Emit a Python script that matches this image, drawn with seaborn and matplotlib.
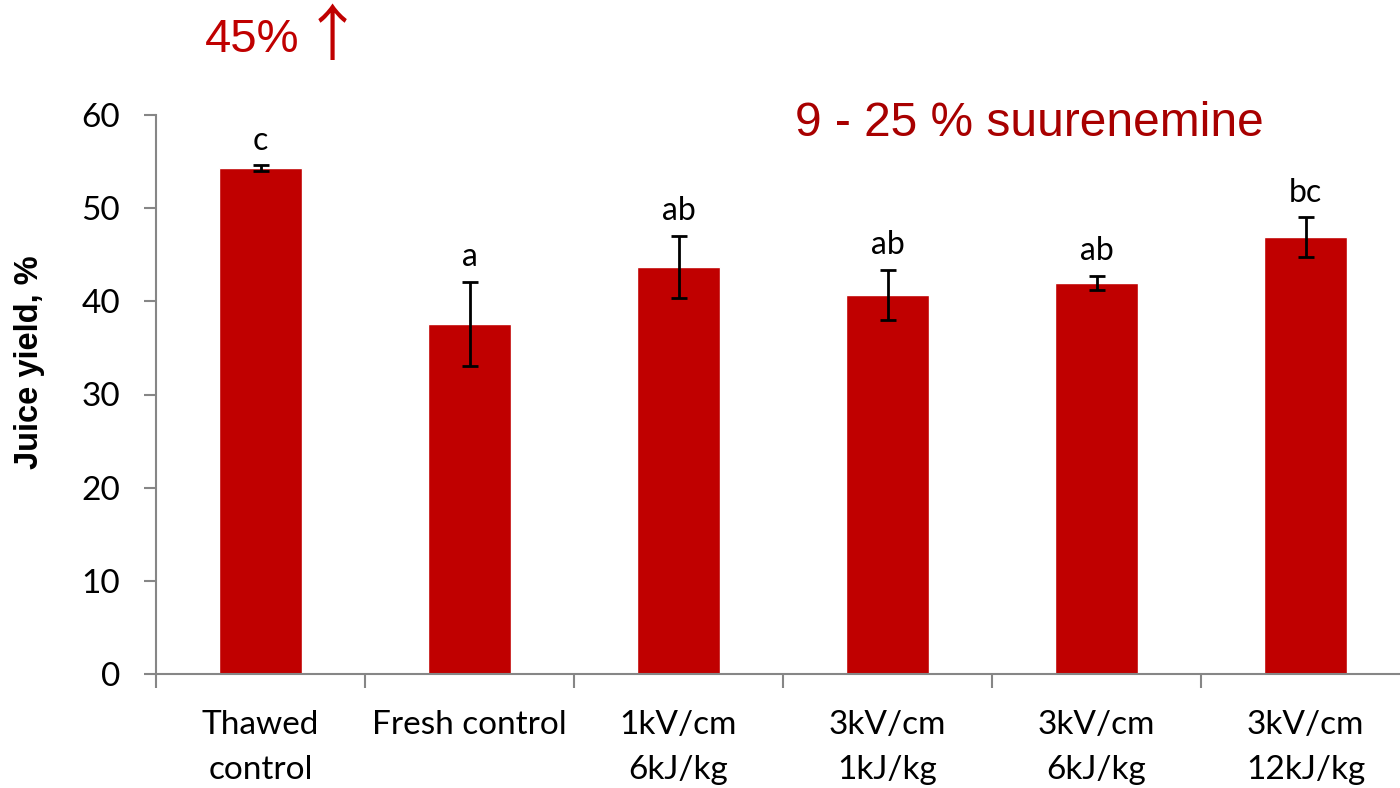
import matplotlib
matplotlib.use("Agg")
import matplotlib.pyplot as plt
import seaborn as sns
import pandas as pd

# Juice yield per treatment (mean ± error) with significance letters
categories = ["Thawed\ncontrol", "Fresh control", "1kV/cm\n6kJ/kg",
              "3kV/cm\n1kJ/kg", "3kV/cm\n6kJ/kg", "3kV/cm\n12kJ/kg"]
yield_mean = [54.3, 37.6, 43.7, 40.7, 42.0, 46.9]
yield_err = [0.3, 4.5, 3.3, 2.7, 0.75, 2.1]
letters = ["c", "a", "ab", "ab", "ab", "bc"]
y_ticks = [0, 10, 20, 30, 40, 50, 60]

df = pd.DataFrame({"treatment": categories, "yield": yield_mean})

sns.set_theme(style="white")
plt.rcParams["font.family"] = ["Lato", "DejaVu Sans"]
plt.rcParams["text.color"] = "black"
plt.rcParams["xtick.color"] = "black"
plt.rcParams["ytick.color"] = "black"

fig = plt.figure(figsize=(14, 7.88), dpi=100)
ax = fig.add_axes([156 / 1400, 1 - 674 / 788, 1254 / 1400, 559 / 788])

bar_red = "#C00000"
sns.barplot(data=df, x="treatment", y="yield", color=bar_red, width=0.4,
            saturation=1, ax=ax, errorbar=None)
ax.errorbar(range(len(categories)), yield_mean, yerr=yield_err, fmt="none",
            ecolor="black", elinewidth=2, capsize=5.5, capthick=2)

for i, (m, e, lab) in enumerate(zip(yield_mean, yield_err, letters)):
    ax.annotate(lab, (i, m + e), xytext=(0, 7), textcoords="offset points",
                ha="center", va="bottom", fontsize=23, color="black")

ax.set_xlim(-0.5, len(categories) - 0.5)
ax.set_ylim(0, 60)
ax.set_yticks(y_ticks)
ax.set_xlabel("")
ax.set_ylabel("Juice yield, %", fontsize=23.5, fontweight="bold",
              family=["Liberation Sans", "DejaVu Sans"], color="black")
ax.yaxis.set_label_coords(-0.0885, 0.558)

spine_gray = "#868686"
for side in ["top", "right"]:
    ax.spines[side].set_visible(False)
for side in ["left", "bottom"]:
    ax.spines[side].set_color(spine_gray)
    ax.spines[side].set_linewidth(1.5)

ax.tick_params(axis="y", left=True, direction="out", length=9, width=1.5,
               color=spine_gray, labelcolor="black", labelsize=24, pad=17)
ax.tick_params(axis="x", bottom=False, labelsize=24, labelcolor="black", pad=20)
# category boundary ticks on the x axis
ax.set_xticks([i - 0.5 for i in range(len(categories) + 1)], minor=True)
ax.tick_params(axis="x", which="minor", bottom=True, direction="out",
               length=10, width=1.5, color=spine_gray)
for t in ax.get_xticklabels():
    t.set_linespacing(1.6)

title_fonts = ["Liberation Sans", "DejaVu Sans"]
fig.text(205 / 1400, 1 - 40 / 788, "45%", color=bar_red, fontsize=34,
         va="center", ha="left", family=title_fonts)
fig.text(332 / 1400, 1 - 38 / 788, "\u2191", color=bar_red, fontsize=44,
         va="center", ha="center", family=["Noto Sans CJK JP", "DejaVu Sans"])
fig.text(795 / 1400, 1 - 123 / 788, "9 - 25 % suurenemine", color="#A80000",
         fontsize=34.5, va="center", ha="left", family=title_fonts)

fig.savefig("out.png", dpi=100, facecolor="white")
